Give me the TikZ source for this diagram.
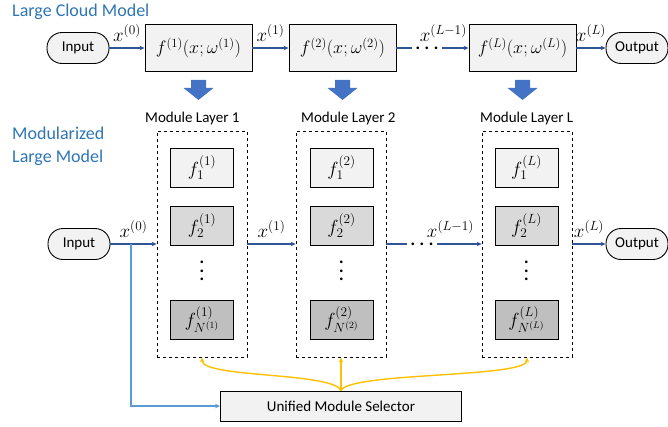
\RequirePackage{fix-cm}
\documentclass[tikz,border=0pt]{standalone}
\usepackage{fontspec}
\setmainfont{Carlito}
\usetikzlibrary{arrows.meta}
\definecolor{titleblue}{HTML}{2E75B6}
\definecolor{linkblue}{HTML}{2F5597}
\definecolor{selblue}{HTML}{5B9BD5}
\definecolor{bigblue}{HTML}{4472C4}
\definecolor{goldline}{HTML}{FFC000}
\definecolor{fillA}{HTML}{F2F2F2}
\definecolor{fillB}{HTML}{D9D9D9}
\definecolor{fillC}{HTML}{BFBFBF}
\newcommand{\hdotrow}{\fontsize{22}{22}\selectfont .\kern3.5pt.\kern3.5pt.}
\newcommand{\vdotcol}{\vbox{\fontsize{22}{8.5}\selectfont\hbox{.}\hbox{.}\hbox{.}}}
\tikzset{
	title/.style={
		font=\fontsize{18}{23}\selectfont,
		text=titleblue,
		inner sep=0pt,
	},
	caption/.style={
		font=\fontsize{15}{18}\selectfont,
		inner sep=0pt,
	},
	terminal/.style={
		rectangle,
		rounded corners=15pt,
		draw=black,
		line width=0.9pt,
		fill=fillA,
		minimum width=62pt,
		minimum height=31pt,
		font=\fontsize{15}{18}\selectfont,
	},
	layer/.style={
		rectangle,
		draw=black,
		line width=0.9pt,
		fill=fillA,
		minimum width=107pt,
		minimum height=47pt,
		inner sep=1pt,
		font=\fontsize{18}{21}\selectfont,
	},
	module/.style={
		rectangle,
		draw=black,
		line width=0.9pt,
		minimum width=63pt,
		minimum height=39pt,
		inner sep=1pt,
		font=\fontsize{19}{22}\selectfont,
	},
	group/.style={
		rectangle,
		draw=black,
		dashed,
		line width=0.8pt,
		minimum width=90pt,
		minimum height=226pt,
	},
	selector/.style={
		rectangle,
		draw=black,
		line width=0.9pt,
		fill=fillA,
		minimum width=241pt,
		minimum height=30pt,
		font=\fontsize{15}{18}\selectfont,
	},
	dotsh/.style={
		inner sep=3pt,
	},
	xlab/.style={
		above=5pt,
		inner sep=1pt,
		font=\fontsize{19}{22}\selectfont,
		text=black,
	},
	link/.style={
		line width=1.1pt,
		draw=linkblue,
	},
	arrow/.style={
		-{Stealth[length=5pt,width=4.5pt]},
		line width=1.1pt,
		draw=linkblue,
	},
	selarrow/.style={
		-{Stealth[length=5pt,width=4.5pt]},
		line width=1.1pt,
		draw=selblue,
	},
	goldarrow/.style={
		-{Stealth[length=5pt,width=4.5pt]},
		line width=1.4pt,
		draw=goldline,
	},
}

\begin{document}
\begin{tikzpicture}[x=1pt,y=-1pt]
		\newcommand{\ytop}{48}
		\newcommand{\ybot}{244}
		\useasboundingbox (0,0) rectangle (668,426);

		% Titles
		\node[title, anchor=base west] (ttl1) at (12,16) {Large Cloud Model};
		\node[title, anchor=north west, align=left] (ttl2) at (12,127) {Modularized\\Large Model};

		% Large cloud model
		\node[terminal] (in1) at (78,\ytop) {Input};
		\node[layer] (f1) at (198.5,\ytop) {$f^{(1)}\bigl(x;\omega^{(1)}\bigr)$};
		\node[layer] (f2) at (342.5,\ytop) {$f^{(2)}\bigl(x;\omega^{(2)}\bigr)$};
		\node[dotsh] (tdots) at (427,\ytop) {\hdotrow};
		\node[layer] (fL) at (522.5,\ytop) {$f^{(L)}\bigl(x;\omega^{(L)}\bigr)$};
		\node[terminal] (out1) at (637,\ytop) {Output};

		\draw[arrow] (in1) -- node[xlab] {$x^{(0)}$} (f1);
		\draw[arrow] (f1) -- node[xlab] {$x^{(1)}$} (f2);
		\draw[link] (f2) -- (tdots);
		\draw[arrow] (tdots) -- node[xlab, pos=0.05] {$x^{(L-1)}$} (fL);
		\draw[arrow] (fL) -- node[xlab] {$x^{(L)}$} (out1);

		% Down arrows
		\foreach \n in {f1,f2,fL}
			\fill[bigblue] ([yshift=-8pt]\n.south) ++(-7.5pt,0pt) -- ++(15pt,0pt) -- ++(0pt,-8pt)
				-- ++(7.5pt,0pt) -- ++(-15pt,-12pt) -- ++(-15pt,12pt) -- ++(7.5pt,0pt) -- cycle;

		% Module layers
		\node[caption, anchor=base west] (cap1) at (145,122) {Module Layer 1};
		\node[caption, anchor=base west] (cap2) at (301,122) {Module Layer 2};
		\node[caption, anchor=base west] (cap3) at (480,122) {Module Layer L};

		\node[group] (g1) at (202,\ybot) {};
		\node[group] (g2) at (341,\ybot) {};
		\node[group] (g3) at (527,\ybot) {};

		\node[module, fill=fillA] (m11) at (202,167.5) {$f_1^{(1)}$};
		\node[module, fill=fillB] (m12) at (202,225.5) {$f_2^{(1)}$};
		\node (v1) at (202,271) {\vdotcol};
		\node[module, fill=fillC] (m1n) at (202,319.5) {$f_{N^{(1)}}^{(1)}$};

		\node[module, fill=fillA] (m21) at (341.5,167.5) {$f_1^{(2)}$};
		\node[module, fill=fillB] (m22) at (341.5,225.5) {$f_2^{(2)}$};
		\node (v2) at (341.5,271) {\vdotcol};
		\node[module, fill=fillC] (m2n) at (341.5,319.5) {$f_{N^{(2)}}^{(2)}$};

		\node[module, fill=fillA] (m31) at (526.5,167.5) {$f_1^{(L)}$};
		\node[module, fill=fillB] (m32) at (526.5,225.5) {$f_2^{(L)}$};
		\node (v3) at (526.5,271) {\vdotcol};
		\node[module, fill=fillC] (m3n) at (526.5,319.5) {$f_{N^{(L)}}^{(L)}$};

		% Modularized model
		\node[terminal] (in2) at (79,\ybot) {Input};
		\node[dotsh] (bdots) at (422,\ybot) {\hdotrow};
		\node[terminal] (out2) at (637,\ybot) {Output};

		\draw[arrow] (in2) -- node[xlab] {$x^{(0)}$} (g1);
		\draw[arrow] (g1) -- node[xlab] {$x^{(1)}$} (g2);
		\draw[link] (g2) -- (bdots);
		\draw[arrow] (bdots) -- node[xlab, pos=0.3] {$x^{(L-1)}$} (g3);
		\draw[arrow] (g3) -- node[xlab] {$x^{(L)}$} (out2);

		% Selector
		\node[selector] (sel) at (341,406) {Unified Module Selector};
		\coordinate (split) at (131,\ybot);
		\draw[selarrow] (split) |- (sel.west);

		\draw[goldarrow] (sel.north) -- (g2.south);
		\draw[goldarrow] (sel.north) .. controls (333,372) and (202,378) .. (g1.south);
		\draw[goldarrow] (sel.north) .. controls (349,372) and (527,378) .. (g3.south);

	\end{tikzpicture}
\end{document}
